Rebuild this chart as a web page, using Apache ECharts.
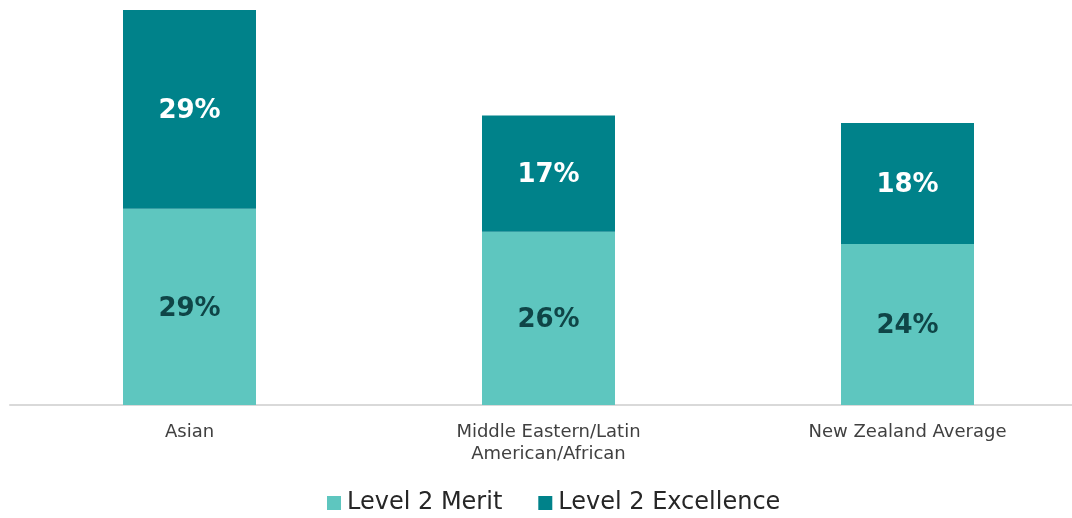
<!DOCTYPE html>
<html><head><meta charset="utf-8">
<script src="https://cdn.jsdelivr.net/npm/echarts@6/dist/echarts.min.js"></script>
<style>html,body{margin:0;padding:0;background:#fff}#c{width:1072px;height:518px}</style>
</head><body><div id="c"></div>
<script>
const categories = ['Asian', 'Middle Eastern/Latin\nAmerican/African', 'New Zealand Average'];
const meritValues = [29.0, 25.6, 23.8];
const excellenceValues = [29.4, 17.2, 17.9];
const seriesNames = ['Level 2 Merit', 'Level 2 Excellence'];

const chart = echarts.init(document.getElementById('c'));
const font = '"DejaVu Sans", Verdana, sans-serif';
chart.setOption({
  animation: false,
  textStyle: { fontFamily: font },
  grid: { left: 10, width: 1077, top: 10, bottom: 113, containLabel: false, outerBoundsMode: 'none' },
  legend: {
    top: 486, left: 322, itemWidth: 14, itemHeight: 14, itemGap: 36,
    icon: 'rect',
    textStyle: { fontSize: 24, color: '#262626', fontFamily: font, padding: [0, 0, 0, 1] },
    data: seriesNames
  },
  xAxis: {
    type: 'category', data: categories,
    axisLine: { lineStyle: { color: '#D9D9D9', width: 2 } },
    axisTick: { show: false },
    axisLabel: { color: '#404040', fontSize: 18, margin: 16, lineHeight: 22, fontFamily: font }
  },
  yAxis: { type: 'value', min: 0, max: 58.4, show: false, splitLine: { show: false } },
  series: [
    {
      name: seriesNames[0], type: 'bar', stack: 'a', data: meritValues, barWidth: 133,
      itemStyle: { color: '#5EC6BF' },
      label: { show: true, position: 'inside', offset: [0, 2], formatter: p => Math.round(p.value) + '%', color: '#0F4547', fontSize: 26, fontWeight: 'bold', fontFamily: font }
    },
    {
      name: seriesNames[1], type: 'bar', stack: 'a', data: excellenceValues, barWidth: 133,
      itemStyle: { color: '#00828A' },
      label: { show: true, position: 'inside', offset: [0, 2], formatter: p => Math.round(p.value) + '%', color: '#FFFFFF', fontSize: 26, fontWeight: 'bold', fontFamily: font }
    }
  ]
});
</script></body></html>
